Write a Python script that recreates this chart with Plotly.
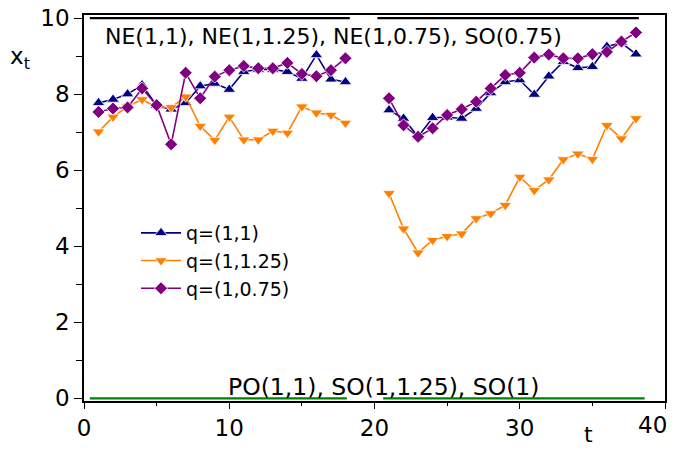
import plotly.graph_objects as go

t = [1, 2, 3, 4, 5, 6, 7, 8, 9, 10, 11, 12, 13, 14, 15, 16, 17, 18, None,
     21, 22, 23, 24, 25, 26, 27, 28, 29, 30, 31, 32, 33, 34, 35, 36, 37, 38]

q_1_1 = [7.77, 7.86, 8.00, 8.24, 7.70, 7.60, 7.77, 8.21, 8.28, 8.12, 8.59, 8.65, 8.65, 8.59, 8.41, 9.03, 8.39, 8.32, None,
         7.58, 7.36, 6.88, 7.38, 7.39, 7.36, 7.62, 8.03, 8.32, 8.37, 7.99, 8.47, 8.85, 8.69, 8.72, 9.25, 9.35, 9.05]
q_1_125 = [7.01, 7.40, 7.67, 7.86, 7.65, 7.65, 7.93, 7.16, 6.79, 7.40, 6.80, 6.80, 7.03, 6.98, 7.67, 7.51, 7.45, 7.24, None,
           5.39, 4.46, 3.83, 4.16, 4.26, 4.33, 4.73, 4.86, 5.08, 5.82, 5.47, 5.75, 6.28, 6.43, 6.29, 7.18, 6.83, 7.36]
q_1_075 = [7.53, 7.62, 7.65, 8.15, 7.71, 6.68, 8.56, 7.89, 8.46, 8.63, 8.74, 8.68, 8.68, 8.82, 8.53, 8.47, 8.63, 8.94, None,
           7.89, 7.18, 6.88, 7.10, 7.45, 7.60, 7.80, 8.15, 8.50, 8.56, 8.96, 9.04, 8.94, 8.94, 9.05, 9.11, 9.38, 9.62]

ne_t = [0.4, 18.3, None, 20.2, 38.2]
ne_y = [10, 10, None, 10, 10]
po_t = [0.4, 18.1, None, 20.6, 38.6]
po_y = [0, 0, None, 0, 0]

x_tickvals = [0, 10, 20, 30, 40]
x_ticktext = ["0", "10", "20", "30", ""]   # "40" is placed as an edge label below
x_last_label = "40"
y_tickvals = [0, 2, 4, 6, 8, 10]

series_names = ["q=(1,1)", "q=(1,1.25)", "q=(1,0.75)"]
series_colors = ["#000080", "#FF8000", "#800080"]
series_symbols = ["triangle-up", "triangle-down", "diamond"]
series_sizes = [11, 11, 10]

FONT = "DejaVu Sans, Liberation Sans, Arial, sans-serif"

W, H = 678, 450
ML, MR, MT, MB = 84, 13, 15, 49
PW = W - ML - MR
PH = H - MT - MB


def px_x(px):
    return (px - ML) / PW


def px_y(py):
    return (H - MB - py) / PH


fig = go.Figure()
fig.add_trace(go.Scatter(x=ne_t, y=ne_y, mode="lines", line=dict(color="black", width=2.2),
                         showlegend=False, hoverinfo="skip"))
fig.add_trace(go.Scatter(x=po_t, y=po_y, mode="lines", line=dict(color="#008000", width=2.2),
                         showlegend=False, hoverinfo="skip"))

for vals, name, col, sym, sz in zip([q_1_1, q_1_125, q_1_075], series_names, series_colors,
                                    series_symbols, series_sizes):
    fig.add_trace(go.Scatter(
        x=t, y=vals, name=name, mode="lines+markers", connectgaps=False,
        line=dict(color=col, width=1.6),
        marker=dict(symbol=sym, size=sz, color=col, line=dict(color="white", width=0.8)),
    ))

axis_common = dict(showgrid=False, zeroline=False, showline=True, linecolor="black",
                   linewidth=1.5, mirror=True, ticks="outside", tickwidth=1.2,
                   tickcolor="black", automargin=False,
                   tickfont=dict(size=23, family=FONT, color="black"))

fig.update_layout(
    width=W, height=H,
    margin=dict(l=ML, r=MR, t=MT, b=MB, autoexpand=False),
    plot_bgcolor="white", paper_bgcolor="white",
    font=dict(family=FONT, size=19, color="black"),
    showlegend=True,
    legend=dict(x=px_x(136), y=px_y(214), xanchor="left", yanchor="top",
                bgcolor="rgba(0,0,0,0)", font=dict(size=19, family=FONT),
                tracegroupgap=0, itemwidth=40),
    xaxis=dict(range=[0, 40], tickvals=x_tickvals, ticktext=x_ticktext, ticklen=6,
               minor=dict(tickvals=[5, 15, 25, 35], ticks="outside", ticklen=3, tickcolor="black"),
               **axis_common),
    yaxis=dict(range=[-0.07, 10.08], tickvals=y_tickvals, ticklen=8,
               minor=dict(tickvals=[1, 3, 5, 7, 9], ticks="outside", ticklen=6, tickcolor="black"),
               **axis_common),
    annotations=[
        dict(x=17.2, y=9.51, xref="x", yref="y", text="NE(1,1), NE(1,1.25), NE(1,0.75), SO(0.75)",
             showarrow=False, font=dict(size=22, family=FONT)),
        dict(x=20.6, y=0.31, xref="x", yref="y", text="PO(1,1), SO(1,1.25), SO(1)",
             showarrow=False, font=dict(size=23.5, family=FONT)),
        dict(x=px_x(8), y=px_y(58), xref="paper", yref="paper", text="x<sub>t</sub>",
             xanchor="left", yanchor="middle", showarrow=False, font=dict(size=23, family=FONT)),
        dict(x=px_x(588), y=px_y(434), xref="paper", yref="paper", text="t",
             xanchor="center", yanchor="middle", showarrow=False, font=dict(size=22, family=FONT)),
        dict(x=x_tickvals[-1], y=px_y(425), xref="x", yref="paper", text=x_last_label,
             xanchor="right", yanchor="middle", xshift=4, showarrow=False,
             font=dict(size=23, family=FONT)),
    ],
)

fig.write_html("out.html", config={"displayModeBar": False},
               post_script="document.body.style.margin='0';")
